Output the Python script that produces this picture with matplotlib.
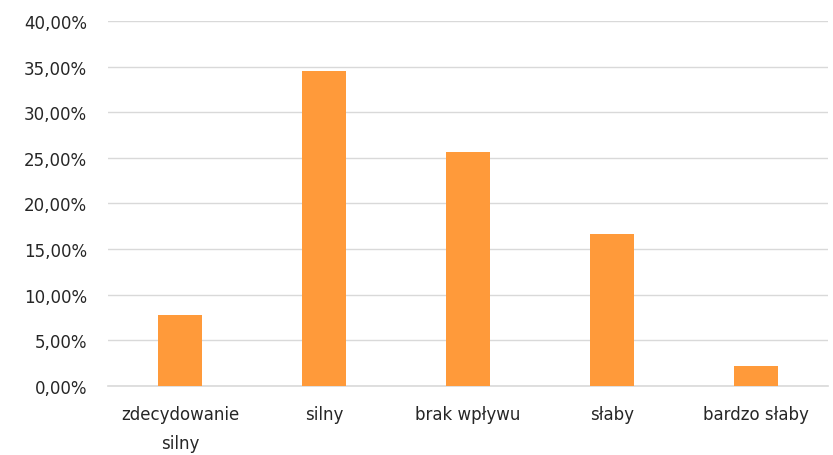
import matplotlib.pyplot as plt
from matplotlib.ticker import FuncFormatter

categories = ['zdecydowanie\nsilny', 'silny', 'brak wpływu', 'słaby', 'bardzo słaby']
values = [7.78, 34.52, 25.64, 16.66, 2.19]

fig = plt.figure(figsize=(8.33, 4.56), dpi=100)
ax = fig.add_axes([0.1297, 0.1513, 0.8643, 0.8005])

ax.bar(range(len(categories)), values, width=0.31, color='#FF9A3A', zorder=3)

ax.set_xlim(-0.5, 4.5)
ax.set_ylim(0, 40)
ax.set_yticks(range(0, 41, 5))
ax.yaxis.set_major_formatter(FuncFormatter(lambda v, p: f'{v:.2f}%'.replace('.', ',')))
ax.set_xticks(range(len(categories)))
ax.set_xticklabels(categories, linespacing=1.75)

ax.grid(axis='y', color='#d9d9d9', linewidth=1, zorder=0)
ax.axhline(0, color='#d9d9d9', linewidth=1.2, zorder=2, clip_on=False)
for s in ax.spines.values():
    s.set_visible(False)
ax.tick_params(length=0, labelsize=12, colors='#262626')
ax.tick_params(axis='y', pad=15)
ax.tick_params(axis='x', pad=14)

fig.savefig('out.png', dpi=100)
